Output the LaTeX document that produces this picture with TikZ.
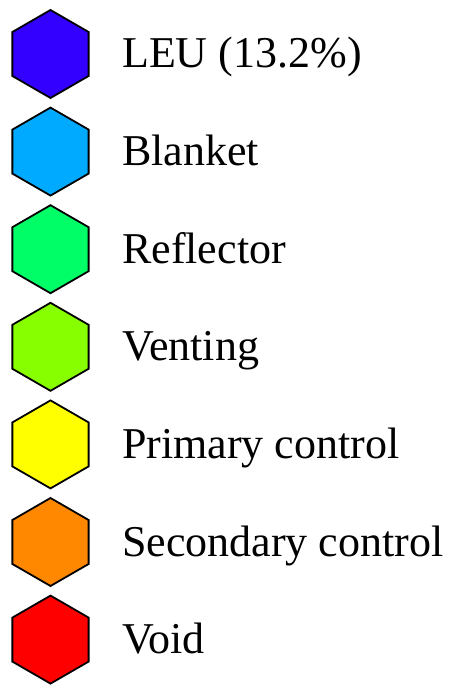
\documentclass[tikz,border=0pt]{standalone}
\usepackage{fontspec}
\setmainfont{Liberation Serif}
\usetikzlibrary{shapes.geometric}
\definecolor{cleu}{HTML}{3300FF}
\definecolor{cblanket}{HTML}{00AAFF}
\definecolor{creflector}{HTML}{00FF66}
\definecolor{cventing}{HTML}{88FF00}
\definecolor{cprimary}{HTML}{FFFF00}
\definecolor{csecondary}{HTML}{FF8800}
\definecolor{cvoid}{HTML}{FF0000}
\begin{document}
\begin{tikzpicture}[x=1pt,y=-1pt,
  hexa/.style={regular polygon, regular polygon sides=6, shape border rotate=30, minimum size=88pt, inner sep=0pt, draw=black, line width=1.8pt, line join=miter},
  lab/.style={anchor=base west, inner sep=0pt, font=\fontsize{44}{48}\selectfont}]
\useasboundingbox (0,0) rectangle (453,692);
\foreach \i/\c/\t in {0/cleu/{LEU (13.2\%)},1/cblanket/Blanket,2/creflector/Reflector,3/cventing/Venting,4/cprimary/Primary control,5/csecondary/Secondary control,6/cvoid/Void}{
  \node[hexa, fill=\c] (h\i) at (50.5,{54+\i*97.6}) {};
  \node[lab] (t\i) at (122,{68+\i*97.6}) {\t};
}
\end{tikzpicture}
\end{document}
